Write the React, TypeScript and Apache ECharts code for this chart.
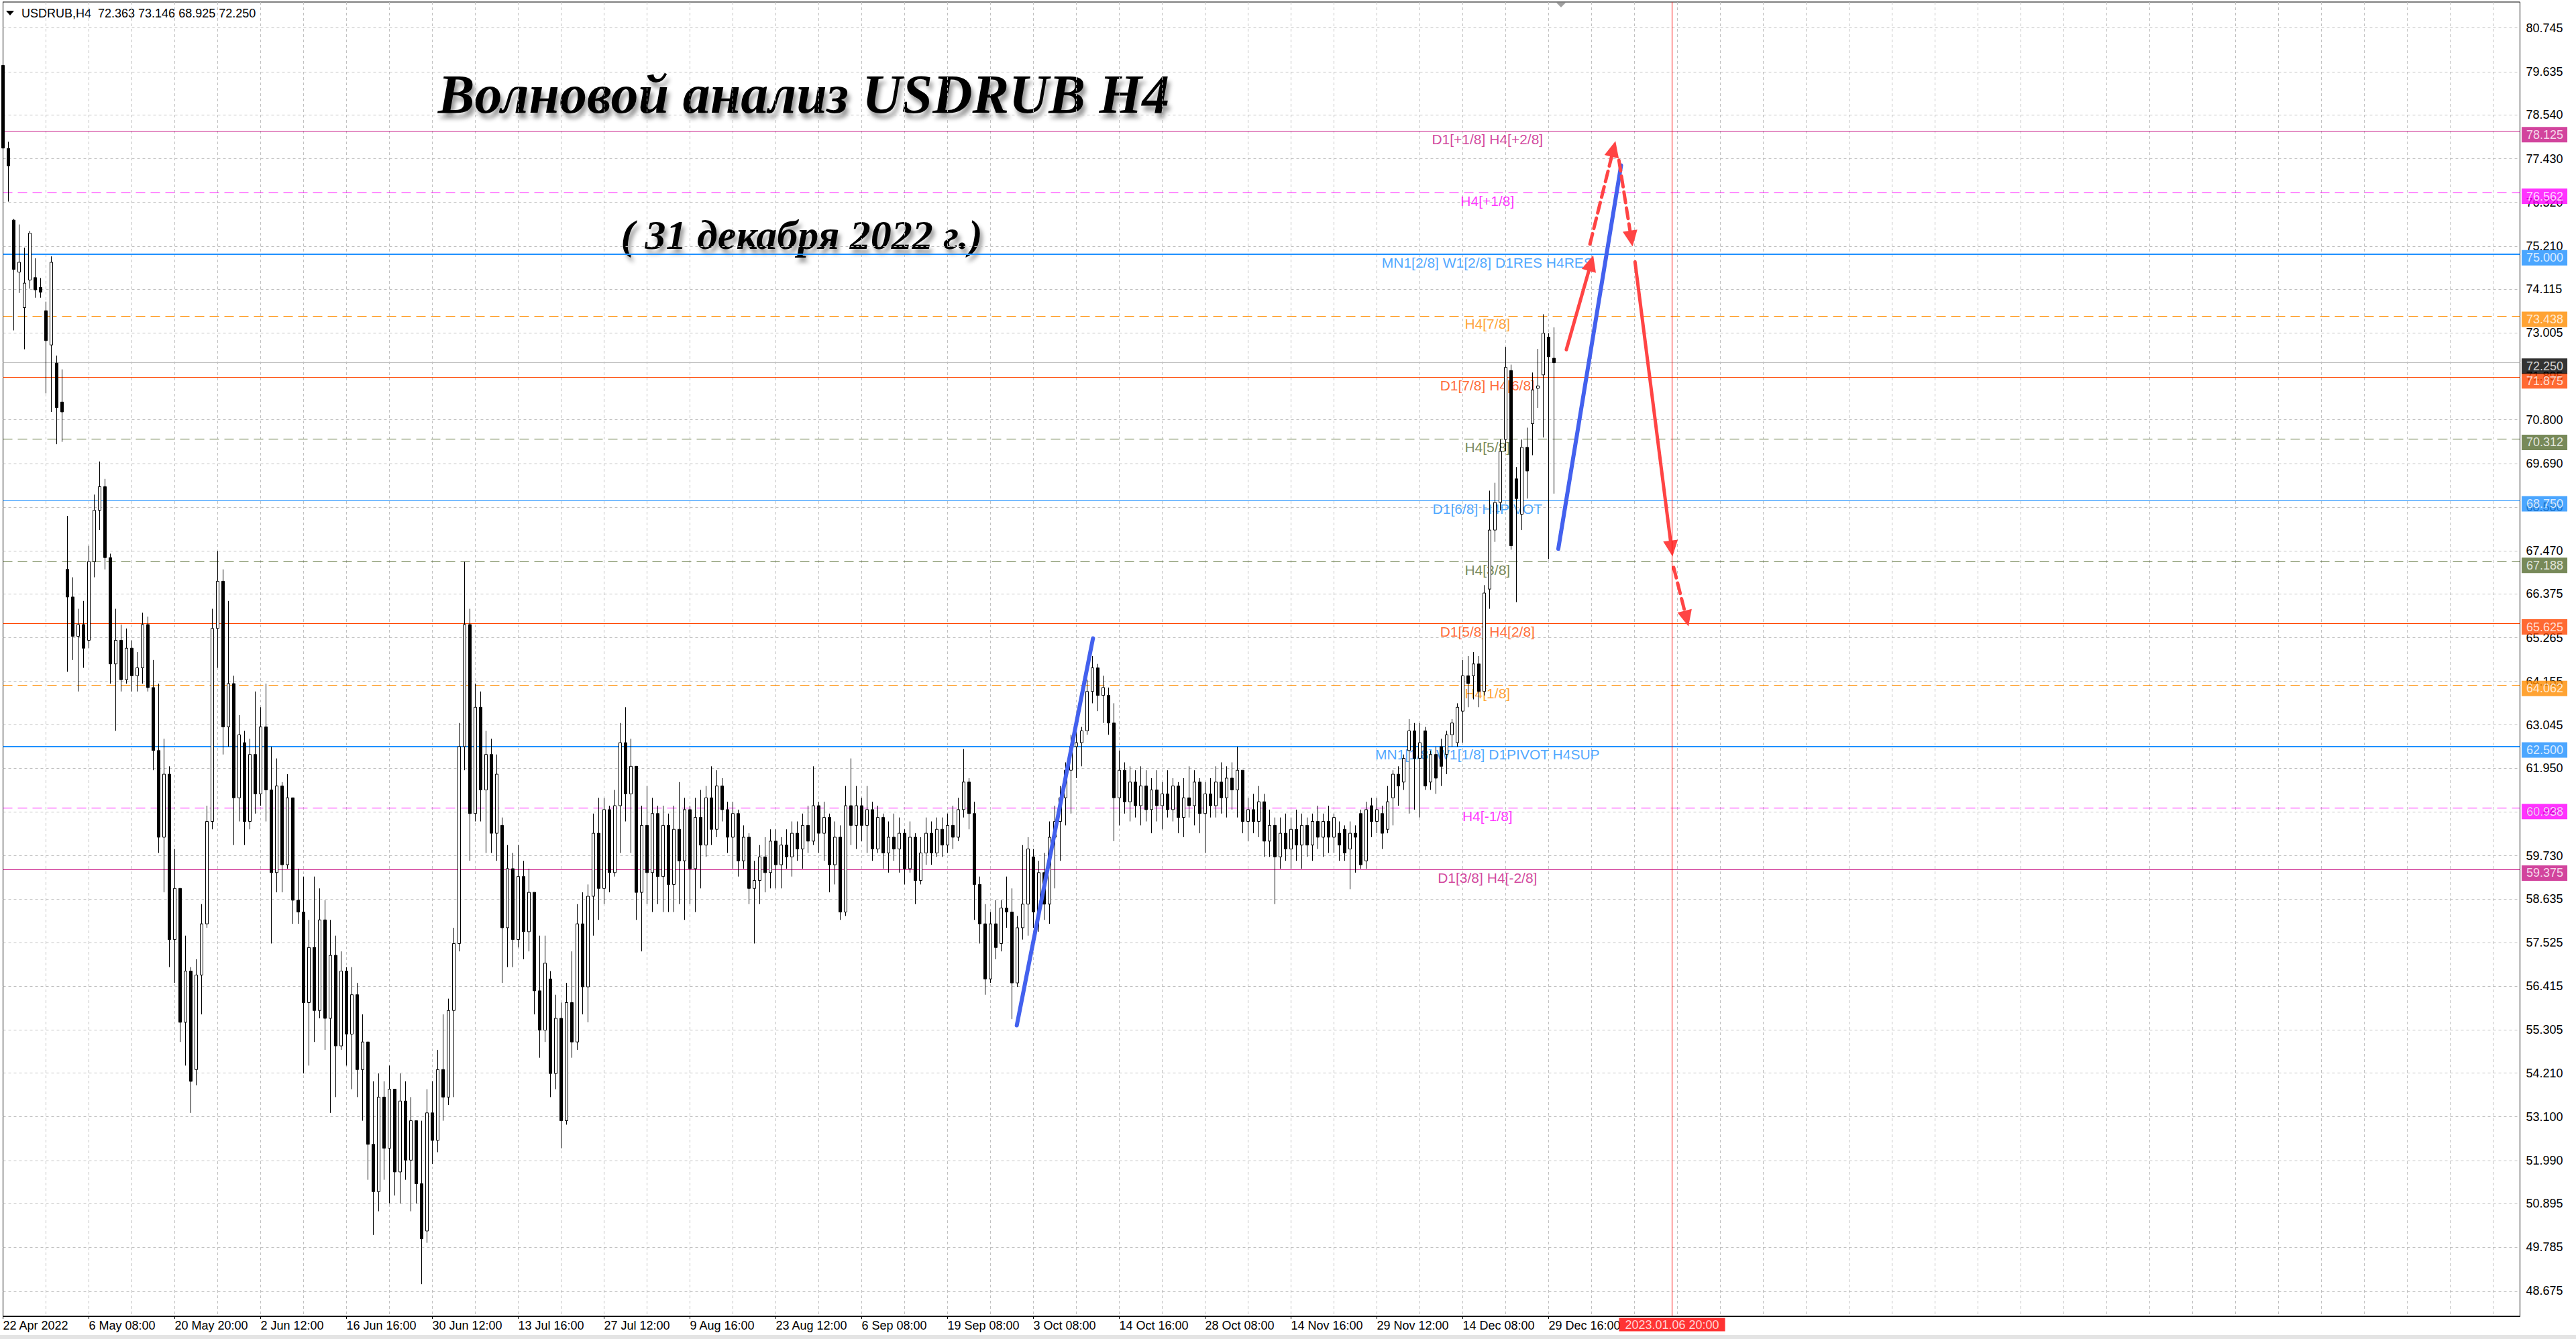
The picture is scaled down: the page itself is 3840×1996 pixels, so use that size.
import React, { useEffect, useRef } from 'react';
import * as echarts from 'echarts';

const symbolName = 'USDRUB,H4';
const titleText = 'Волновой анализ USDRUB H4';
const subtitleText = '( 31 декабря 2022 г.)';

const dateLabels = ['22 Apr 2022', '6 May 08:00', '20 May 20:00', '2 Jun 12:00', '16 Jun 16:00', '30 Jun 12:00', '13 Jul 16:00', '27 Jul 12:00', '9 Aug 16:00', '23 Aug 12:00', '6 Sep 08:00', '19 Sep 08:00', '3 Oct 08:00', '14 Oct 16:00', '28 Oct 08:00', '14 Nov 16:00', '29 Nov 12:00', '14 Dec 08:00', '29 Dec 16:00'];

const yTicks = [80.745, 79.635, 78.54, 77.43, 76.32, 75.21, 74.115, 73.005, 71.895, 70.8, 69.69, 68.58, 67.47, 66.375, 65.265, 64.155, 63.045, 61.95, 60.84, 59.73, 58.635, 57.525, 56.415, 55.305, 54.21, 53.1, 51.99, 50.895, 49.785, 48.675];

const opens = [
  79.80, 77.69, 75.87, 74.55, 73.65, 74.35, 74.41, 74.16, 73.57, 72.70,
  72.24, 71.25, 67.00, 66.30, 65.30, 65.60, 65.20, 67.20, 68.50, 69.10,
  67.30, 64.60, 65.20, 64.20, 65.00, 64.30, 64.50, 65.60, 64.00, 62.40,
  60.20, 61.80, 57.60, 58.90, 55.50, 56.80, 54.30, 56.70, 58.00, 60.60,
  65.50, 66.70, 63.00, 64.10, 61.20, 62.60, 60.60, 62.30, 61.30, 63.00,
  61.40, 59.30, 61.50, 59.50, 61.20, 58.60, 58.30, 56.00, 57.40, 55.80,
  58.10, 55.60, 57.20, 54.90, 56.80, 55.20, 56.20, 54.30, 55.00, 52.40,
  51.20, 53.60, 52.30, 53.80, 51.70, 53.50, 52.00, 53.00, 51.40, 50.20,
  53.20, 52.50, 54.30, 53.60, 55.80, 57.50, 62.50, 65.60, 60.80, 63.50,
  61.40, 62.30, 60.30, 60.50, 57.90, 59.40, 57.60, 59.20, 57.80, 58.80,
  56.30, 55.30, 56.60, 54.20, 55.60, 53.00, 56.00, 55.00, 58.00, 56.40,
  58.70, 60.30, 58.90, 60.90, 59.30, 61.00, 62.60, 61.30, 62.00, 58.80,
  60.50, 59.30, 60.80, 59.20, 60.50, 59.00, 60.40, 59.60, 60.90, 59.40,
  60.70, 60.00, 61.20, 60.40, 61.50, 60.90, 60.20, 60.80, 59.60, 60.20,
  58.90, 59.10, 59.70, 59.30, 60.10, 59.50, 60.00, 59.70, 60.30, 59.90,
  60.50, 60.10, 61.00, 60.30, 60.70, 59.50, 60.20, 58.30, 61.00, 60.50,
  61.00, 60.50, 60.90, 59.90, 60.70, 59.80, 60.20, 59.90, 60.30, 59.40,
  60.20, 59.10, 59.80, 60.30, 59.80, 60.40, 60.00, 60.50, 60.20, 60.90,
  61.60, 60.80, 59.00, 58.00, 56.60, 58.00, 57.50, 58.40, 58.30, 56.50,
  57.90, 58.50, 59.70, 58.30, 59.30, 58.50, 60.20, 60.60, 61.20, 61.90,
  62.50, 62.60, 62.90, 63.90, 64.50, 63.80, 63.80, 63.10, 61.20, 61.90,
  61.10, 61.60, 61.00, 61.50, 60.90, 61.40, 61.00, 61.30, 60.90, 61.50,
  60.70, 61.20, 61.00, 61.60, 60.80, 61.30, 61.00, 61.60, 61.20, 61.70,
  61.40, 61.90, 60.60, 60.90, 60.60, 61.10, 60.10, 60.50, 59.70, 60.30,
  59.90, 60.40, 60.00, 60.50, 60.00, 60.60, 60.20, 60.60, 60.20, 60.30,
  60.40, 59.90, 60.30, 60.80, 59.60, 61.00, 60.60, 60.80, 60.40, 61.20,
  61.80, 61.60, 62.40, 62.90, 62.20, 62.90, 61.60, 62.30, 62.50, 62.30,
  62.80, 62.60, 63.40, 64.30, 64.30, 64.60, 63.90, 66.50, 68.00, 68.70,
  70.30, 72.05, 69.30, 68.40, 70.10, 70.70, 71.60, 71.94, 72.90, 72.363,
];

const highs = [
  79.85, 77.86, 75.90, 75.76, 75.17, 75.60, 74.90, 74.40, 73.80, 74.95,
  72.43, 72.08, 68.36, 66.80, 66.00, 66.20, 67.60, 68.90, 69.74, 69.30,
  67.40, 66.00, 65.60, 65.50, 65.20, 64.90, 65.90, 65.80, 64.70, 64.10,
  62.70, 62.00, 59.90, 58.90, 57.70, 56.90, 57.10, 58.50, 61.00, 66.00,
  67.47, 67.00, 66.20, 64.30, 63.30, 62.90, 62.70, 63.90, 63.50, 64.10,
  62.50, 62.20, 61.60, 61.80, 61.20, 59.40, 59.20, 58.10, 59.20, 58.90,
  58.60, 58.10, 57.70, 57.30, 56.90, 56.90, 56.50, 55.70, 55.00, 54.00,
  54.20, 54.00, 54.40, 53.80, 54.20, 54.00, 53.60, 53.00, 53.00, 53.80,
  54.00, 54.80, 55.70, 56.10, 57.90, 63.10, 67.20, 66.00, 64.10, 63.90,
  62.90, 62.70, 62.30, 60.70, 60.00, 59.80, 60.00, 59.60, 59.40, 58.80,
  57.70, 57.70, 56.80, 56.20, 56.00, 56.50, 57.30, 58.50, 58.80, 59.00,
  60.80, 61.20, 61.20, 61.00, 61.40, 63.10, 63.50, 62.70, 62.00, 61.00,
  61.50, 61.20, 61.00, 61.00, 60.80, 61.00, 61.60, 61.20, 61.00, 61.20,
  61.40, 61.50, 62.00, 61.90, 61.70, 61.10, 61.10, 60.90, 60.50, 60.30,
  59.60, 60.00, 60.20, 60.40, 60.40, 60.20, 60.40, 60.60, 60.60, 60.80,
  61.00, 62.00, 61.10, 61.10, 60.80, 60.60, 60.50, 61.50, 62.20, 61.50,
  61.20, 61.50, 61.10, 61.00, 60.80, 60.60, 60.80, 60.70, 60.40, 60.60,
  60.30, 60.20, 60.70, 60.60, 60.70, 60.70, 60.80, 61.00, 61.20, 62.44,
  61.70, 61.10, 59.20, 58.50, 58.30, 58.60, 58.60, 59.20, 58.90, 58.20,
  60.00, 60.20, 59.90, 59.60, 59.80, 60.60, 61.00, 61.50, 62.10, 62.80,
  63.00, 63.00, 64.20, 64.80, 64.60, 64.30, 64.00, 63.60, 62.40, 62.10,
  62.00, 61.90, 62.00, 61.90, 61.70, 61.90, 61.60, 61.90, 61.70, 61.60,
  61.70, 62.00, 61.90, 61.70, 61.60, 61.70, 62.00, 62.10, 62.00, 62.10,
  62.50, 61.90, 61.20, 61.30, 61.50, 61.30, 60.90, 60.70, 60.70, 60.80,
  60.70, 60.90, 60.80, 60.70, 60.80, 61.00, 60.80, 61.00, 60.80, 60.60,
  60.50, 60.60, 60.50, 60.90, 61.10, 61.20, 61.20, 61.00, 61.50, 61.90,
  62.00, 62.30, 63.20, 63.10, 63.10, 63.00, 62.40, 62.50, 62.70, 62.90,
  63.20, 63.60, 64.70, 64.80, 64.90, 64.80, 66.60, 69.00, 69.20, 70.30,
  72.65, 72.20, 69.60, 70.30, 70.60, 72.00, 72.60, 73.48, 73.00, 73.146,
];

const lows = [
  76.19, 76.34, 73.07, 74.02, 72.59, 74.13, 73.90, 73.90, 71.47, 71.00,
  70.18, 70.24, 64.40, 64.70, 63.90, 64.50, 65.00, 66.80, 68.00, 67.00,
  64.10, 62.90, 63.90, 64.10, 63.90, 63.90, 64.10, 63.90, 61.90, 59.80,
  58.80, 56.90, 56.50, 55.00, 54.40, 53.20, 53.90, 55.70, 57.90, 60.40,
  64.50, 62.30, 62.50, 60.00, 60.60, 60.00, 60.40, 60.80, 61.00, 60.60,
  57.50, 58.80, 58.80, 59.40, 58.00, 58.00, 54.20, 54.40, 55.00, 55.60,
  54.80, 53.20, 53.60, 54.80, 54.40, 53.80, 53.60, 53.00, 51.50, 50.10,
  50.70, 51.50, 50.90, 51.10, 50.90, 51.50, 50.70, 50.90, 48.85, 49.90,
  51.90, 52.20, 53.00, 53.40, 53.60, 57.30, 61.90, 59.60, 60.60, 60.60,
  59.80, 59.80, 59.60, 56.50, 56.90, 56.90, 57.40, 57.10, 57.30, 55.70,
  54.60, 55.00, 53.60, 53.80, 52.30, 52.90, 54.60, 54.80, 55.70, 55.50,
  57.70, 58.10, 58.50, 58.80, 59.20, 59.80, 60.60, 59.80, 58.10, 57.30,
  58.50, 58.30, 58.50, 58.30, 58.30, 58.30, 58.50, 58.10, 58.50, 58.30,
  58.90, 59.70, 60.00, 60.20, 60.60, 59.80, 59.40, 59.20, 59.40, 58.50,
  57.50, 58.50, 58.80, 58.90, 58.90, 58.90, 59.40, 59.20, 59.60, 59.40,
  59.80, 60.00, 59.80, 59.60, 58.80, 59.00, 58.10, 58.20, 60.00, 59.90,
  60.10, 59.80, 59.60, 59.80, 59.40, 59.30, 59.60, 59.30, 59.00, 59.30,
  58.50, 59.00, 59.50, 59.50, 59.70, 59.70, 59.80, 59.90, 60.10, 60.70,
  60.40, 58.10, 57.50, 56.20, 56.50, 57.10, 57.30, 57.90, 55.58, 56.40,
  57.60, 57.70, 57.90, 57.80, 58.10, 58.00, 58.90, 59.60, 60.50, 60.80,
  61.70, 62.00, 62.80, 63.60, 63.40, 63.10, 62.80, 60.10, 60.50, 60.80,
  60.60, 60.70, 60.50, 60.60, 60.30, 60.60, 60.40, 60.70, 60.60, 60.30,
  60.20, 60.70, 60.50, 60.30, 59.80, 60.70, 60.70, 60.80, 60.70, 60.90,
  60.70, 60.30, 60.10, 60.30, 60.20, 59.70, 59.70, 58.50, 59.40, 59.60,
  59.40, 59.60, 59.40, 59.70, 59.60, 59.90, 59.70, 59.80, 59.80, 59.60,
  59.60, 58.88, 59.30, 59.40, 59.40, 60.20, 60.30, 59.90, 60.30, 60.50,
  61.00, 61.40, 60.80, 60.90, 60.70, 61.40, 61.40, 61.30, 61.50, 61.80,
  62.50, 62.50, 62.60, 63.50, 63.70, 63.50, 63.80, 66.00, 67.70, 68.50,
  70.00, 67.50, 66.17, 68.00, 68.80, 69.90, 71.10, 70.35, 67.26, 68.925,
];

const closes = [
  77.70, 77.25, 74.62, 74.80, 74.27, 75.54, 74.10, 74.04, 72.81, 74.80,
  71.11, 71.00, 66.30, 65.30, 65.60, 65.00, 67.20, 68.50, 69.10, 67.30,
  64.60, 65.20, 64.20, 65.00, 64.30, 64.50, 65.60, 64.00, 62.40, 60.20,
  61.80, 57.60, 58.90, 55.50, 56.80, 54.00, 56.70, 58.00, 60.60, 65.50,
  66.70, 63.00, 64.10, 61.20, 62.80, 60.60, 62.30, 61.30, 63.00, 61.40,
  59.30, 61.50, 59.50, 61.20, 58.60, 58.30, 56.00, 57.40, 55.80, 58.10,
  55.60, 57.20, 54.90, 56.80, 55.20, 56.20, 54.30, 55.00, 52.40, 51.20,
  53.60, 52.30, 53.80, 51.70, 53.50, 52.00, 53.00, 51.40, 50.00, 53.20,
  52.50, 54.30, 53.60, 55.80, 57.50, 62.50, 65.60, 60.80, 63.50, 61.40,
  62.30, 60.30, 61.80, 57.90, 59.40, 57.60, 59.20, 57.80, 58.80, 56.30,
  55.30, 57.00, 54.20, 55.60, 53.00, 56.00, 55.00, 58.00, 56.40, 58.70,
  60.30, 58.90, 60.90, 59.30, 61.00, 62.60, 61.30, 62.00, 58.80, 60.50,
  59.30, 60.80, 59.20, 60.50, 59.00, 60.40, 59.60, 60.90, 59.40, 60.70,
  60.00, 61.20, 60.40, 61.50, 60.90, 60.20, 60.80, 59.60, 60.20, 58.90,
  59.10, 59.70, 59.30, 60.10, 59.50, 60.00, 59.70, 60.30, 59.90, 60.50,
  60.10, 61.00, 60.30, 60.70, 59.50, 60.20, 58.30, 61.00, 60.50, 61.00,
  60.50, 60.90, 59.90, 60.70, 59.80, 60.20, 59.90, 60.30, 59.40, 60.20,
  59.10, 59.80, 60.30, 59.80, 60.40, 60.00, 60.50, 60.20, 60.90, 61.60,
  60.80, 59.00, 58.00, 56.60, 58.00, 57.40, 58.40, 58.30, 56.50, 57.90,
  58.50, 59.90, 58.30, 59.30, 58.50, 60.20, 60.60, 61.20, 61.90, 62.50,
  62.60, 62.90, 63.90, 64.50, 63.80, 64.00, 63.10, 61.20, 61.90, 61.10,
  61.60, 61.00, 61.50, 60.90, 61.40, 61.00, 61.30, 60.90, 61.50, 60.70,
  61.20, 61.00, 61.60, 60.80, 61.30, 61.00, 61.60, 61.20, 61.70, 61.40,
  61.90, 60.60, 60.90, 60.60, 61.10, 60.10, 60.50, 59.70, 60.30, 59.90,
  60.40, 60.00, 60.50, 60.00, 60.60, 60.20, 60.60, 60.20, 60.70, 60.00,
  59.80, 60.30, 60.20, 59.50, 60.90, 60.60, 60.90, 60.30, 61.10, 61.80,
  61.50, 62.20, 62.90, 62.20, 62.60, 61.50, 62.30, 61.70, 62.00, 62.80,
  63.10, 63.50, 64.30, 64.10, 64.60, 63.90, 66.40, 68.00, 68.70, 70.00,
  72.13, 67.60, 68.80, 70.10, 69.50, 71.56, 71.66, 73.00, 72.40, 72.25,
];

const levelValues = [78.125, 76.562, 75.0, 73.438, 71.875, 70.312, 68.75, 67.188, 65.625, 64.062, 62.5, 60.938, 59.375];
const levelNames = ['D1[+1/8] H4[+2/8]', 'H4[+1/8]', 'MN1[2/8] W1[2/8] D1RES H4RES', 'H4[7/8]', 'D1[7/8] H4[6/8]', 'H4[5/8]', 'D1[6/8] H4PIVOT', 'H4[3/8]', 'D1[5/8] H4[2/8]', 'H4[1/8]', 'MN1[1/8] W1[1/8] D1PIVOT H4SUP', 'H4[-1/8]', 'D1[3/8] H4[-2/8]'];
const levelColors = ['#C71585', '#FF00FF', '#1E90FF', '#FF8C00', '#FF4500', '#556B2F', '#1E90FF', '#556B2F', '#FF4500', '#FF8C00', '#1E90FF', '#FF00FF', '#C71585'];
const levelDashed = [false, true, false, true, false, true, false, true, false, true, false, true, false];
const levelWidths = [1, 1, 2, 1, 1, 1, 1, 1, 1, 1, 2, 1, 1];
const currentPrice = 72.25;

// drawn objects: [x1 index, y1 price, x2 index, y2 price]
const blueLines = [
  [188.9, 55.42, 203.1, 65.25],
  [289.8, 67.52, 301.5, 77.26],
];
// [x1, y1, x2, y2, dashed]
const redArrows = [
  [291.3, 72.58, 295.9, 74.78, 0],
  [295.7, 75.26, 300.1, 77.68, 1],
  [301.1, 77.39, 303.4, 75.4, 1],
  [304.1, 74.81, 310.9, 67.53, 0],
  [311.3, 67.05, 313.7, 65.75, 1],
];
const vLineIndex = 311;
const vLineLabel = '2023.01.06 20:00';

export default function App() {
  const ref = useRef<HTMLDivElement>(null);
  useEffect(() => {
    const chart = echarts.init(ref.current as HTMLDivElement, null, { renderer: 'svg' });
    const N = 470;
    const categories = Array.from({ length: N }, (_, i) =>
      i % 16 === 0 && i / 16 < dateLabels.length ? dateLabels[i / 16] : ''
    );
    const candleData = opens.map((o, i) => [o, closes[i], lows[i], highs[i]]);
    const yMin = 48.036;
    const yMax = 81.409;
    const labelX = 276.6;
    const sans = "'Liberation Sans', Arial, sans-serif";
    const last = opens.length - 1;
    const header = `${symbolName}  ${opens[last].toFixed(3)} ${highs[last].toFixed(3)} ${lows[last].toFixed(3)} ${closes[last].toFixed(3)}`;

    const drawItems: any[] = [];
    blueLines.forEach((b) => {
      drawItems.push([
        { coord: [b[0], b[1]], symbol: 'none', lineStyle: { color: '#4361EE', width: 6, type: 'solid', cap: 'round' } },
        { coord: [b[2], b[3]], symbol: 'none' },
      ]);
    });
    redArrows.forEach((r) => {
      drawItems.push([
        { coord: [r[0], r[1]], symbol: 'none', lineStyle: { color: '#FF4444', width: 5, type: r[4] ? [16, 8] : 'solid', cap: 'round' } },
        { coord: [r[2], r[3]], symbol: 'triangle', symbolSize: [22, 24] },
      ]);
    });
    drawItems.push({ xAxis: vLineIndex, lineStyle: { color: '#FF0000', width: 1, type: 'solid' } });

    const option: any = {
      animation: false,
      backgroundColor: '#ffffff',
      grid: { left: 4.5, right: 83.5, top: 3, bottom: 34, show: true, borderColor: '#000', borderWidth: 1, backgroundColor: 'transparent' },
      xAxis: [
        {
          type: 'category',
          data: categories,
          boundaryGap: false,
          axisLine: { lineStyle: { color: '#000', width: 1 } },
          axisTick: { show: true, interval: (i: number, v: string) => v !== '', length: 4, lineStyle: { color: '#000' } },
          axisLabel: { interval: 15, align: 'left', margin: 5, color: '#000', fontSize: 18, fontFamily: sans },
          splitLine: { show: true, interval: 7, lineStyle: { color: '#C0C0C0', type: [4, 4], width: 1 } },
        },
        { type: 'value', min: 0, max: N - 1, show: false },
      ],
      yAxis: {
        type: 'value',
        position: 'right',
        min: yMin,
        max: yMax,
        axisLine: { show: true, lineStyle: { color: '#000', width: 1 } },
        axisTick: { show: false },
        splitLine: { show: false },
        axisLabel: { customValues: yTicks, formatter: (v: number) => v.toFixed(3), color: '#000', fontSize: 18, fontFamily: sans, margin: 9 },
      },
      graphic: [
        { type: 'rect', silent: true, shape: { x: 0, y: 1990, width: 3840, height: 6 }, style: { fill: '#E4E4E4' } },
        { type: 'polygon', silent: true, shape: { points: [[9, 16], [21, 16], [15, 23]] }, style: { fill: '#000' } },
        { type: 'text', silent: true, x: 32, y: 20, style: { text: header, fill: '#000', fontSize: 18, fontFamily: sans, verticalAlign: 'middle' } },
        { type: 'polygon', silent: true, shape: { points: [[2320, 4], [2334, 4], [2327, 11]] }, style: { fill: '#A0A0A0' } },
        {
          type: 'text', silent: true, x: 1198, y: 140,
          style: {
            text: titleText, fill: '#000', fontSize: 82, fontStyle: 'italic', fontWeight: 'bold', fontFamily: "'Liberation Serif', 'DejaVu Serif', serif",
            align: 'center', verticalAlign: 'middle',
            textShadowColor: 'rgba(0,0,0,0.4)', textShadowBlur: 6, textShadowOffsetX: 4, textShadowOffsetY: 8,
          },
        },
        {
          type: 'text', silent: true, x: 1195, y: 350,
          style: {
            text: subtitleText, fill: '#000', fontSize: 62, fontStyle: 'italic', fontWeight: 'bold', fontFamily: "'Liberation Serif', 'DejaVu Serif', serif",
            align: 'center', verticalAlign: 'middle',
            textShadowColor: 'rgba(0,0,0,0.4)', textShadowBlur: 6, textShadowOffsetX: 4, textShadowOffsetY: 7,
          },
        },
      ],
      series: [
        {
          name: 'grid',
          type: 'line', xAxisIndex: 1, yAxisIndex: 0, data: [], silent: true, z: 1,
          markLine: {
            silent: true, z: 1, symbol: ['none', 'none'], label: { show: false }, animation: false,
            lineStyle: { color: '#C0C0C0', type: [4, 4], width: 1 },
            data: yTicks.map((v) => ({ yAxis: v })),
          },
        },
        {
          name: 'levels',
          type: 'line', xAxisIndex: 1, yAxisIndex: 0, data: [], silent: true, z: 2,
          markLine: {
            silent: true, z: 2, symbol: ['none', 'none'], label: { show: false }, animation: false,
            data: [
              { yAxis: currentPrice, lineStyle: { color: '#C0C0C0', width: 1, type: 'solid' } },
              ...levelValues.map((v, i) => ({
                yAxis: v,
                lineStyle: { color: levelColors[i], width: levelWidths[i], type: levelDashed[i] ? [14, 8] : 'solid' },
              })),
            ],
          },
        },
        {
          name: 'levelLabels',
          type: 'scatter', xAxisIndex: 1, yAxisIndex: 0, silent: true, z: 2, clip: false,
          symbol: 'rect', symbolSize: 1, itemStyle: { color: 'rgba(0,0,0,0)' },
          data: levelValues.map((v, i) => ({
            value: [labelX, v],
            label: { show: true, position: 'inside', offset: [0, 12], formatter: levelNames[i], color: levelColors[i], fontSize: 21, fontFamily: sans },
          })),
        },
        {
          name: 'USDRUB',
          type: 'candlestick', xAxisIndex: 0, yAxisIndex: 0, z: 3, barWidth: 5,
          data: candleData,
          itemStyle: { color: '#ffffff', color0: '#000000', borderColor: '#000000', borderColor0: '#000000', borderWidth: 1 },
        },
        {
          name: 'drawings',
          type: 'line', xAxisIndex: 1, yAxisIndex: 0, data: [], silent: true, z: 10,
          markLine: { silent: true, z: 10, symbol: ['none', 'none'], label: { show: false }, animation: false, data: drawItems },
        },
        {
          name: 'priceBoxes',
          type: 'scatter', xAxisIndex: 1, yAxisIndex: 0, silent: true, z: 11, clip: false,
          symbol: 'rect', symbolSize: 1, itemStyle: { color: 'rgba(0,0,0,0)' },
          label: {
            show: true, position: 'right', distance: 2, offset: [0, 5], color: '#fff', fontSize: 18, fontFamily: sans,
            padding: [3, 6, 2, 7], formatter: (p: any) => p.value[1].toFixed(3),
          },
          data: [
            ...levelValues.map((v, i) => ({ value: [N - 1, v], label: { backgroundColor: levelColors[i] } })),
            { value: [N - 1, currentPrice], label: { backgroundColor: '#000000' } },
          ],
        },
        {
          name: 'vLineLabel',
          type: 'scatter', xAxisIndex: 1, yAxisIndex: 0, silent: true, z: 11, clip: false,
          symbol: 'rect', symbolSize: 1, itemStyle: { color: 'rgba(0,0,0,0)' },
          data: [{ value: [vLineIndex, yMin] }],
          label: {
            show: true, position: 'bottom', distance: 2, formatter: vLineLabel, color: '#fff', backgroundColor: '#FF0000',
            fontSize: 18, fontFamily: sans, lineHeight: 19, padding: [1, 9, 0, 9],
          },
        },
      ],
    };
    chart.setOption(option);
    return () => chart.dispose();
  }, []);
  return <div ref={ref} style={{ position: 'fixed', left: 0, top: 0, width: 3840, height: 1996, background: '#fff' }} />;
}
